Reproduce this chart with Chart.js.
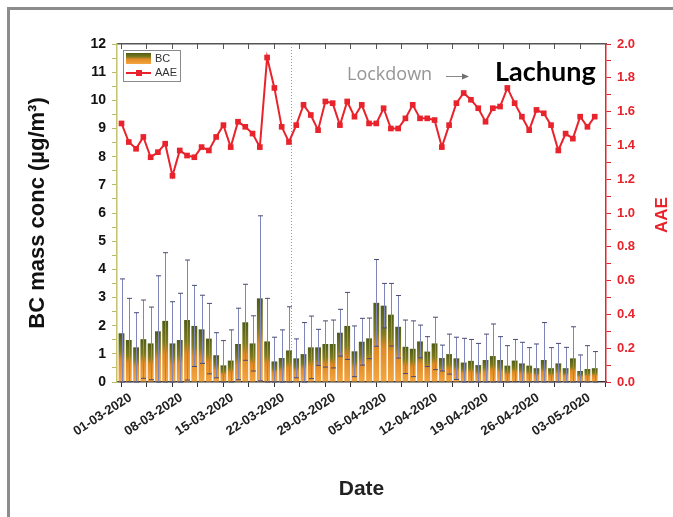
<!DOCTYPE html>
<html>
<head>
<meta charset="utf-8">
<script src="https://cdn.jsdelivr.net/npm/chart.js@4.4.0/dist/chart.umd.min.js"></script>
<style>
  body { margin: 0; background: #fff; }
  #wrap { position: relative; width: 673px; height: 517px; overflow: hidden; }
  #frame { position: absolute; left: 7px; top: 7px; width: 700px; height: 540px;
           border-top: 3px solid #8c8c8c; border-left: 3px solid #8c8c8c; pointer-events: none; }
</style>
</head>
<body>
<div id="wrap">
  <canvas id="chart" width="673" height="517"></canvas>
  <div id="frame"></div>
</div>
<script>
// daily values, 01-03-2020 .. 05-05-2020
const bcMean = [1.73, 1.49, 1.23, 1.52, 1.37, 1.80, 2.17, 1.37, 1.49, 2.20,
                1.99, 1.87, 1.54, 0.95, 0.59, 0.76, 1.35, 2.12, 1.37, 2.97,
                1.44, 0.73, 0.85, 1.12, 0.84, 0.99, 1.23, 1.23, 1.35, 1.35,
                1.75, 1.99, 1.09, 1.43, 1.55, 2.81, 2.71, 2.39, 1.96, 1.25,
                1.18, 1.44, 1.08, 1.37, 0.85, 0.99, 0.84, 0.69, 0.75, 0.60,
                0.78, 0.92, 0.78, 0.58, 0.76, 0.66, 0.58, 0.49, 0.78, 0.49,
                0.66, 0.49, 0.84, 0.39, 0.46, 0.49];
const bcSd = [1.93, 1.48, 1.23, 1.39, 1.29, 1.97, 2.42, 1.48, 1.66, 2.13,
              1.44, 1.21, 1.25, 0.80, 0.88, 1.09, 1.27, 1.35, 0.98, 2.93,
              1.53, 0.86, 1.00, 1.55, 0.69, 1.12, 1.11, 0.64, 0.82, 0.85,
              0.83, 1.19, 0.90, 0.83, 0.72, 1.54, 0.79, 1.11, 1.11, 0.95,
              0.99, 0.58, 0.53, 0.93, 0.46, 0.71, 0.75, 0.86, 0.76, 0.77,
              0.92, 1.14, 0.83, 0.71, 0.75, 0.75, 0.64, 0.86, 1.33, 0.73,
              0.71, 0.74, 1.12, 0.57, 0.83, 0.59];
const aae = [1.53, 1.42, 1.38, 1.45, 1.33, 1.36, 1.41, 1.22, 1.37, 1.34,
             1.33, 1.39, 1.37, 1.45, 1.52, 1.39, 1.54, 1.51, 1.47, 1.39,
             1.92, 1.74, 1.51, 1.42, 1.52, 1.64, 1.58, 1.49, 1.66, 1.65,
             1.52, 1.66, 1.57, 1.64, 1.53, 1.53, 1.62, 1.50, 1.50, 1.56,
             1.64, 1.56, 1.56, 1.55, 1.39, 1.52, 1.65, 1.71, 1.67, 1.62,
             1.54, 1.62, 1.63, 1.74, 1.65, 1.57, 1.49, 1.61, 1.59, 1.52,
             1.37, 1.47, 1.44, 1.57, 1.51, 1.57];
const tickDays = [0, 7, 14, 21, 28, 35, 42, 49, 56, 63];
const tickLabels = ['01-03-2020', '08-03-2020', '15-03-2020', '22-03-2020', '29-03-2020',
                    '05-04-2020', '12-04-2020', '19-04-2020', '26-04-2020', '03-05-2020'];
const lockdownDay = 23.3;

const days = bcMean.map((_, i) => i);
const X_MIN = -0.62, X_MAX = 66.55;
const xTicks = tickDays.flatMap(d => [d, d + 3.5]).filter(v => v <= X_MAX);
const RED = '#e8232b';
const boldFont = size => ({ family: 'Arial, "Liberation Sans"', weight: 'bold', size });

function fillGradient(ctx, top, bottom) {
  const g = ctx.createLinearGradient(0, top, 0, bottom);
  g.addColorStop(0, '#4f5c16');
  g.addColorStop(0.35, '#7d7a1e');
  g.addColorStop(0.55, '#e08a25');
  g.addColorStop(1, '#f4a640');
  return g;
}

function barGradient(context) {
  const chart = context.chart;
  if (!chart.chartArea || context.type !== 'data') return '#e8922a';
  const y = chart.scales.y;
  return fillGradient(chart.ctx, y.getPixelForValue(bcMean[context.dataIndex]), y.getPixelForValue(0));
}

const errorBars = {
  id: 'errorBars',
  afterDatasetDraw(chart, args) {
    if (args.index !== 0) return;
    const { ctx, scales: { x, y } } = chart;
    ctx.save();
    ctx.lineWidth = 1;
    days.forEach(i => {
      const px = Math.round(x.getPixelForValue(i)) + 0.5;
      const hi = y.getPixelForValue(bcMean[i] + bcSd[i]);
      const lo = y.getPixelForValue(Math.max(0, bcMean[i] - bcSd[i]));
      ctx.strokeStyle = '#7f86ba';
      ctx.beginPath(); ctx.moveTo(px, hi); ctx.lineTo(px, lo); ctx.stroke();
      ctx.strokeStyle = '#4a4a72';
      ctx.beginPath();
      ctx.moveTo(px - 2.5, hi); ctx.lineTo(px + 2.5, hi);
      ctx.moveTo(px - 2.5, lo); ctx.lineTo(px + 2.5, lo);
      ctx.stroke();
    });
    ctx.restore();
  }
};

const decor = {
  id: 'decor',
  beforeDatasetsDraw(chart) {
    const { ctx, chartArea, scales: { x } } = chart;
    const lx = Math.round(x.getPixelForValue(lockdownDay)) + 0.5;
    ctx.save();
    ctx.strokeStyle = '#9a9a9a';
    ctx.lineWidth = 1;
    ctx.setLineDash([1, 2]);
    ctx.beginPath(); ctx.moveTo(lx, chartArea.top); ctx.lineTo(lx, chartArea.bottom); ctx.stroke();
    ctx.restore();
  },
  afterDraw(chart) {
    const { ctx, chartArea } = chart;
    ctx.save();
    // legend box
    const bx = chartArea.left + 6, by = chartArea.top + 6;
    ctx.strokeStyle = '#8a8a8a';
    ctx.lineWidth = 1;
    ctx.strokeRect(bx + 0.5, by + 0.5, 57, 31);
    ctx.fillStyle = fillGradient(ctx, by + 3, by + 14);
    ctx.fillRect(bx + 3, by + 3, 25, 11);
    ctx.strokeStyle = RED;
    ctx.lineWidth = 2;
    ctx.beginPath(); ctx.moveTo(bx + 3, by + 23); ctx.lineTo(bx + 28, by + 23); ctx.stroke();
    ctx.fillStyle = RED;
    ctx.fillRect(bx + 13, by + 20, 6, 6);
    ctx.fillStyle = '#333';
    ctx.font = '11px Arial, "Liberation Sans"';
    ctx.textBaseline = 'middle';
    ctx.fillText('BC', bx + 32, by + 9);
    ctx.fillText('AAE', bx + 32, by + 23);
    // annotations
    ctx.fillStyle = '#959595';
    ctx.font = '18px "Open Sans"';
    ctx.fillText('Lockdown', 347, 75);
    ctx.strokeStyle = '#8a8a8a';
    ctx.lineWidth = 1;
    ctx.beginPath(); ctx.moveTo(446, 76.5); ctx.lineTo(466, 76.5); ctx.stroke();
    ctx.fillStyle = '#707070';
    ctx.beginPath(); ctx.moveTo(469, 76.5); ctx.lineTo(462, 73.5); ctx.lineTo(462, 79.5); ctx.closePath(); ctx.fill();
    ctx.fillStyle = '#000';
    ctx.font = 'bold 27px Lato';
    ctx.fillText('Lachung', 495, 72);
    // right axis title, reading bottom to top
    ctx.translate(662, 215);
    ctx.rotate(-Math.PI / 2);
    ctx.textAlign = 'center';
    ctx.fillStyle = RED;
    ctx.font = 'bold 17px Arial, "Liberation Sans"';
    ctx.fillText('AAE', 0, 0);
    ctx.restore();
  }
};

new Chart(document.getElementById('chart'), {
  type: 'bar',
  data: {
    datasets: [
      {
        type: 'bar', label: 'BC',
        data: days.map(i => ({ x: i, y: bcMean[i] })),
        xAxisID: 'x', yAxisID: 'y',
        backgroundColor: barGradient,
        barPercentage: 0.8, categoryPercentage: 1,
        order: 2
      },
      {
        type: 'line', label: 'AAE',
        data: days.map(i => ({ x: i, y: aae[i] })),
        xAxisID: 'x', yAxisID: 'y1',
        borderColor: RED, backgroundColor: RED, borderWidth: 2,
        pointStyle: 'rect', pointRadius: 4, pointBorderWidth: 0,
        tension: 0, order: 1
      }
    ]
  },
  options: {
    responsive: false,
    animation: false,
    devicePixelRatio: 1,
    layout: { padding: { left: 20, top: 44, right: 0, bottom: 10 } },
    plugins: { legend: { display: false }, tooltip: { enabled: false } },
    scales: {
      x: {
        type: 'linear', position: 'bottom', min: X_MIN, max: X_MAX, offset: false,
        afterBuildTicks: s => { s.ticks = xTicks.map(v => ({ value: v })); },
        afterFit: s => { s.height = 125; },
        grid: { drawOnChartArea: false, offset: false, tickLength: 5, color: '#333' },
        border: { color: '#333', width: 1.5 },
        ticks: {
          autoSkip: false, minRotation: 33, maxRotation: 33, padding: 3, labelOffset: 9,
          color: '#222', font: boldFont(13),
          callback: v => { const k = tickDays.indexOf(v); return k >= 0 ? tickLabels[k] : ''; }
        },
        title: { display: true, text: 'Date', color: '#222', font: boldFont(21), padding: 5 }
      },
      xTop: {
        type: 'linear', position: 'top', min: X_MIN, max: X_MAX, offset: false,
        afterBuildTicks: s => { s.ticks = xTicks.map(v => ({ value: v })); },
        afterFit: s => { s.height = 0; },
        grid: { drawOnChartArea: false, offset: false, tickLength: -5, color: '#555' },
        border: { color: '#555', width: 1.5 },
        ticks: { display: false }
      },
      y: {
        position: 'left', min: 0, max: 12,
        afterFit: s => { s.width = 97; },
        grid: { drawOnChartArea: false, tickLength: 5, color: '#b8b866' },
        border: { color: '#c4c470', width: 1.5 },
        ticks: {
          stepSize: 0.5, autoSkip: false, padding: 6, color: '#111', font: boldFont(14),
          callback: v => Number.isInteger(v) ? v : ''
        },
        title: { display: true, text: 'BC mass conc (\u00b5g/m\u00b3)', color: '#111', font: boldFont(22), padding: 5 }
      },
      y1: {
        position: 'right', min: 0, max: 2,
        afterFit: s => { s.width = 67; },
        grid: { drawOnChartArea: false, tickLength: 5, color: RED },
        border: { color: RED, width: 1.5 },
        ticks: {
          stepSize: 0.1, autoSkip: false, padding: 6, color: RED, font: boldFont(13),
          callback: v => Math.round(v * 10) % 2 === 0 ? v.toFixed(1) : ''
        }
      }
    }
  },
  plugins: [errorBars, decor]
});
</script>
</body>
</html>
